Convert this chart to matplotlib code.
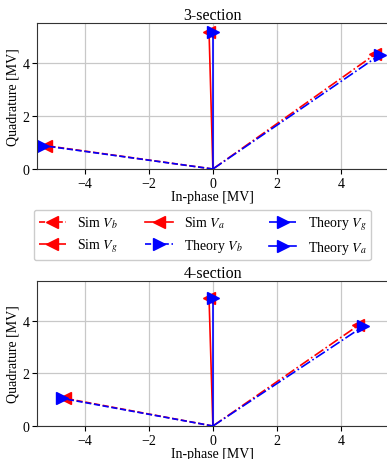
import matplotlib
matplotlib.use("Agg")
import matplotlib.pyplot as plt

plt.rcParams['font.family'] = ['Liberation Serif', 'DejaVu Serif']
plt.rcParams['mathtext.fontset'] = 'stix'
plt.rcParams['font.size'] = 10

# phasor end points (in-phase, quadrature) in MV
names = ['b', 'g', 'a']
styles = ['--', '-.', '-']
sim_3 = {'b': (-5.22, 0.88), 'g': (5.08, 4.33), 'a': (-0.12, 5.18)}
theory_3 = {'b': (-5.30, 0.88), 'g': (5.22, 4.30), 'a': (0.0, 5.18)}
sim_4 = {'b': (-4.62, 1.05), 'g': (4.55, 3.82), 'a': (-0.12, 4.85)}
theory_4 = {'b': (-4.72, 1.05), 'g': (4.70, 3.78), 'a': (0.0, 4.85)}
titles = ['3-section', '4-section']

fig = plt.figure(figsize=(3.87, 4.6), dpi=100)
ax1 = fig.add_axes([0.0956, 0.6304, 0.9090, 0.3174])
ax2 = fig.add_axes([0.0956, 0.0717, 0.9090, 0.3152])


def draw(ax, sim, theory, title):
    for n, ls in zip(names, styles):
        x, y = sim[n]
        ax.plot([0, x], [0, y], color='red', ls=ls, lw=1.2, marker='<',
                markevery=[1], ms=8, label='Sim $V_%s$' % n)
    for n, ls in zip(names, styles):
        x, y = theory[n]
        ax.plot([0, x], [0, y], color='blue', ls=ls, lw=1.2, marker='>',
                markevery=[1], ms=8, label='Theory $V_%s$' % n)
    ax.set_xlim(-5.5, 5.5)
    ax.set_ylim(0, 5.5)
    ax.set_xticks([-4, -2, 0, 2, 4])
    ax.set_yticks([0, 2, 4])
    ax.tick_params(length=3.5, pad=2)
    ax.grid(True, color='#c8c8c8', lw=0.9)
    ax.set_axisbelow(True)
    for s in ax.spines.values():
        s.set_color('#333333')
    ax.set_title(title, fontsize=11.5, pad=2)
    ax.set_xlabel('In-phase [MV]', labelpad=0)
    ax.set_ylabel('Quadrature [MV]', labelpad=2)


draw(ax1, sim_3, theory_3, titles[0])
draw(ax2, sim_4, theory_4, titles[1])

handles, labels = ax1.get_legend_handles_labels()
fig.legend(handles, labels, ncol=3, loc='center', bbox_to_anchor=(0.523, 0.487),
           numpoints=1, handlelength=2.0, columnspacing=1.9, fontsize=10,
           borderpad=0.35, labelspacing=0.45, handletextpad=0.8,
           framealpha=1, edgecolor='#cccccc')

fig.savefig('out.png', dpi=100)
